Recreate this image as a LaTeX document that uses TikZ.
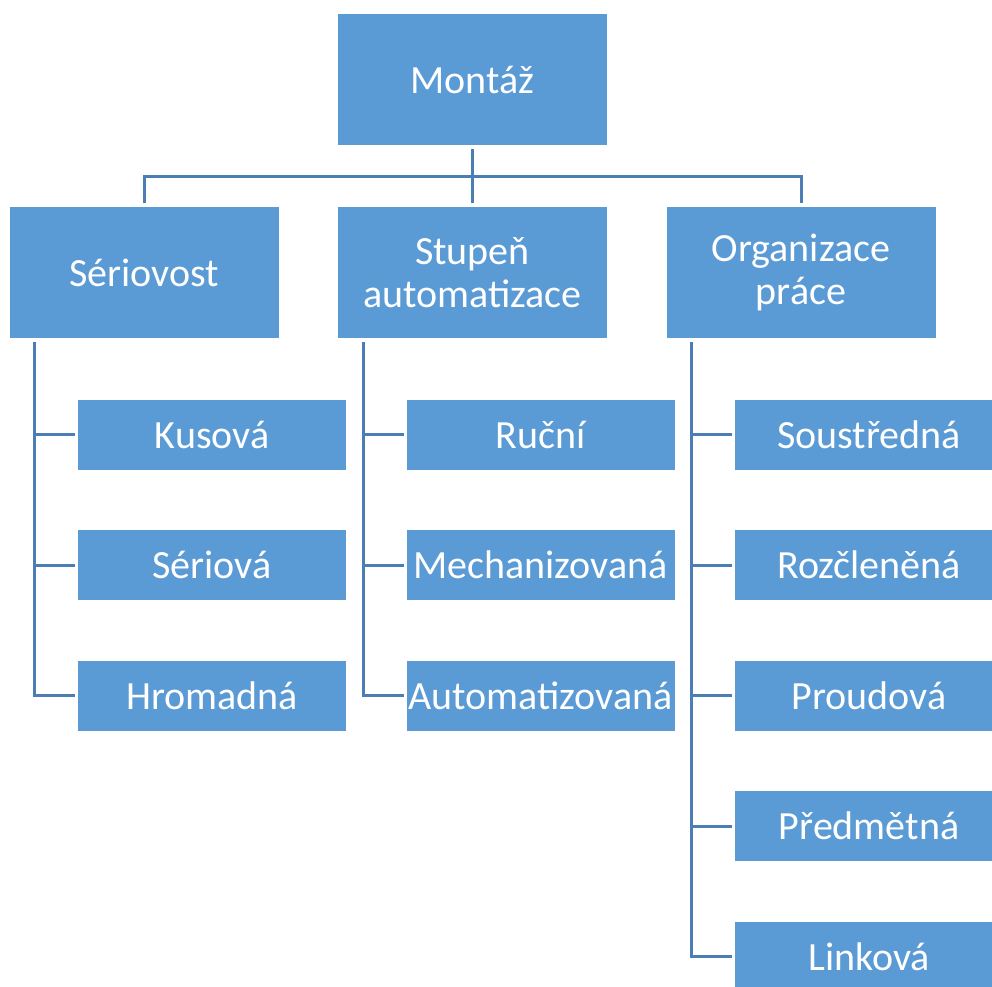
\documentclass[tikz,border=0pt]{standalone}
\usepackage{fontspec}
\setmainfont{Carlito}
\definecolor{boxblue}{HTML}{5B9BD5}
\definecolor{lineblue}{HTML}{4A7EB4}
\begin{document}
\begin{tikzpicture}[x=1pt,y=-1pt,
  topbox/.style={fill=boxblue,draw=none,inner sep=0pt,outer sep=0pt,
    minimum width=269pt,minimum height=131pt,text=white,align=center,
    font=\fontsize{40}{43.5}\selectfont},
  leafbox/.style={fill=boxblue,draw=none,inner sep=0pt,outer sep=0pt,
    minimum width=268pt,minimum height=70pt,text=white,
    font=\fontsize{40}{43.5}\selectfont},
  conn/.style={draw=lineblue,line width=3pt}]
\useasboundingbox (0,0) rectangle (992,986);
\clip (0,0) rectangle (992,986);
\fill[white] (0,0) rectangle (992,986);

% top level and the three categories
\node[topbox] (root) at (472.5,79.5) {Montáž};
\node[topbox] (a) at (144,272.5) {Sériovost};
\node[topbox] (b) at (472.5,272.5) {Stupeň\\automatizace};
\node[topbox] (c) at (801,272.5) {Organizace\\práce};

% leaves of each category
\node[leafbox] (a1) at (212,434.5) {Kusová};
\node[leafbox] (a2) at (212,565) {Sériová};
\node[leafbox] (a3) at (212,695.5) {Hromadná};
\node[leafbox] (b1) at (540.5,434.5) {Ruční};
\node[leafbox] (b2) at (540.5,565) {Mechanizovaná};
\node[leafbox] (b3) at (540.5,695.5) {Automatizovaná};
\node[leafbox] (c1) at (869,434.5) {Soustředná};
\node[leafbox] (c2) at (869,565) {Rozčleněná};
\node[leafbox] (c3) at (869,695.5) {Proudová};
\node[leafbox] (c4) at (869,826) {Předmětná};
\node[leafbox] (c5) at (869,956.5) {Linková};

% connectors from the root
\draw[conn] ([yshift=-4pt]root.south) -- ([yshift=4pt]b.north);
\draw[conn] ([yshift=4pt]a.north) -- ++(0,-27) -| ([yshift=4pt]c.north);

% connectors to the leaves
\draw[conn] ([shift={(25,4)}]a.south west) |- ([xshift=-3pt]a3.west);
\draw[conn] ([xshift=-3pt]a1.west) -- ++(-40,0);
\draw[conn] ([xshift=-3pt]a2.west) -- ++(-40,0);
\draw[conn] ([shift={(25,4)}]b.south west) |- ([xshift=-3pt]b3.west);
\draw[conn] ([xshift=-3pt]b1.west) -- ++(-40,0);
\draw[conn] ([xshift=-3pt]b2.west) -- ++(-40,0);
\draw[conn] ([shift={(25,4)}]c.south west) |- ([xshift=-3pt]c5.west);
\draw[conn] ([xshift=-3pt]c1.west) -- ++(-40,0);
\draw[conn] ([xshift=-3pt]c2.west) -- ++(-40,0);
\draw[conn] ([xshift=-3pt]c3.west) -- ++(-40,0);
\draw[conn] ([xshift=-3pt]c4.west) -- ++(-40,0);
\end{tikzpicture}
\end{document}
